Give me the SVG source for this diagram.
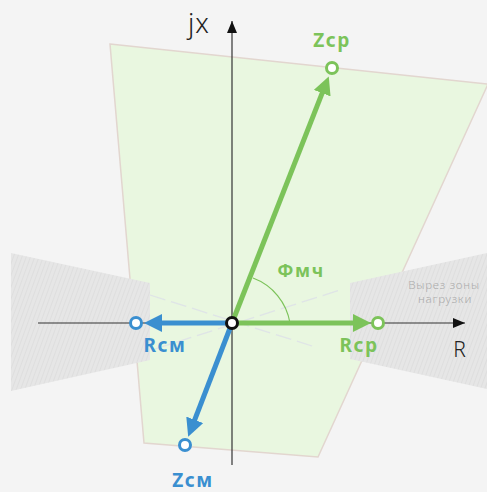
<svg xmlns="http://www.w3.org/2000/svg" width="487" height="492" viewBox="0 0 487 492">
<style>
.lbl{font-family:"Noto Sans","DejaVu Sans",sans-serif;font-weight:700;text-anchor:middle;letter-spacing:1.5px}
.g{fill:#7cc35a}
.b{fill:#3a8fd0}
.ax{font-family:"Noto Sans","DejaVu Sans",sans-serif;font-weight:300;fill:#222;text-anchor:middle;letter-spacing:1px}
.zone{fill:url(#hatch)}
.load{stroke:#dde0e8;stroke-width:1.3;stroke-dasharray:16 6;fill:none;opacity:0.85}
.pt{fill:#fff;stroke-width:3}
.cut{font-family:"Noto Sans","DejaVu Sans",sans-serif;font-size:11.5px;font-weight:300;fill:#aaaaaa;text-anchor:middle;letter-spacing:0.8px}
</style>
<defs>
<pattern id="hatch" width="4" height="4" patternUnits="userSpaceOnUse" patternTransform="rotate(20)">
<rect width="4" height="4" fill="#e6e6e6"/>
<line x1="0" y1="0" x2="0" y2="4" stroke="#d9d9d9" stroke-width="1.2"/>
</pattern>
<marker id="ah" markerUnits="userSpaceOnUse" markerWidth="12" markerHeight="10" viewBox="0 0 12 10" refX="12" refY="5" orient="auto">
<path d="M0,0 L12,5 L0,10 z" fill="#111"/>
</marker>
<marker id="ag" markerUnits="userSpaceOnUse" markerWidth="18" markerHeight="18" viewBox="0 0 18 18" refX="8" refY="9" orient="auto">
<path d="M0,0 L18,9 L0,18 z" fill="#7cc35a"/>
</marker>
<marker id="ab" markerUnits="userSpaceOnUse" markerWidth="18" markerHeight="18" viewBox="0 0 18 18" refX="8" refY="9" orient="auto">
<path d="M0,0 L18,9 L0,18 z" fill="#3a8fd0"/>
</marker>
</defs>
<rect width="487" height="492" fill="#f4f4f4"/>
<g id="zone-characteristic">
<polygon points="110,44 488,84 318,457 144,443" fill="#e9f7e0" stroke="#e2d6cf" stroke-width="1.5"/>
</g>
<g id="load-cutout">
<polygon class="zone" points="11,253 150,283 150,360 11,391"/>
<polygon class="zone" points="350,283 487,253 487,389 350,359"/>
<text class="cut" x="444" y="289">Вырез зоны</text>
<text class="cut" x="445" y="303">нагрузки</text>
</g>
<g id="connectors">
<line class="load" x1="150" y1="295" x2="312" y2="346"/>
<line class="load" x1="155" y1="349" x2="340" y2="290"/>
<line x1="232" y1="465" x2="232" y2="21" stroke="#333" stroke-width="1.2" marker-end="url(#ah)"/>
<line x1="38" y1="323" x2="465" y2="323" stroke="#333" stroke-width="1.2" marker-end="url(#ah)"/>
<path d="M253,278 A58,58 0 0 1 290,323" fill="none" stroke="#7cc35a" stroke-width="1.2"/>
<line x1="232" y1="323" x2="325.1" y2="85.7" stroke="#7cc35a" stroke-width="5" marker-end="url(#ag)"/>
<line x1="232" y1="323" x2="361" y2="323" stroke="#7cc35a" stroke-width="5" marker-end="url(#ag)"/>
<line x1="232" y1="323" x2="154" y2="323" stroke="#3a8fd0" stroke-width="5" marker-end="url(#ab)"/>
<line x1="232" y1="323" x2="191.8" y2="427.3" stroke="#3a8fd0" stroke-width="5" marker-end="url(#ab)"/>
</g>
<g id="node-Zcp">
<circle class="pt" cx="332" cy="68" r="5.5" stroke="#7cc35a"/>
<text class="lbl g" x="332" y="47" font-size="19">Zср</text>
</g>
<g id="node-Rcp">
<circle class="pt" cx="378" cy="323" r="5.5" stroke="#7cc35a"/>
<text class="lbl g" x="359" y="352" font-size="19">Rср</text>
</g>
<g id="node-Rcm">
<circle class="pt" cx="136" cy="323" r="5.5" stroke="#3a8fd0"/>
<text class="lbl b" x="165" y="352" font-size="19">Rсм</text>
</g>
<g id="node-Zcm">
<circle class="pt" cx="185" cy="445" r="5.5" stroke="#3a8fd0"/>
<text class="lbl b" x="193" y="487" font-size="19">Zсм</text>
</g>
<g id="node-origin">
<circle class="pt" cx="232" cy="323" r="5.5" stroke="#111"/>
</g>
<g id="angle-label">
<text class="lbl g" x="301" y="277" font-size="18">Фмч</text>
</g>
<g id="axis-labels">
<text class="ax" x="199" y="33" font-size="27">jx</text>
<text class="ax" x="460" y="357" font-size="21">R</text>
</g>
</svg>
